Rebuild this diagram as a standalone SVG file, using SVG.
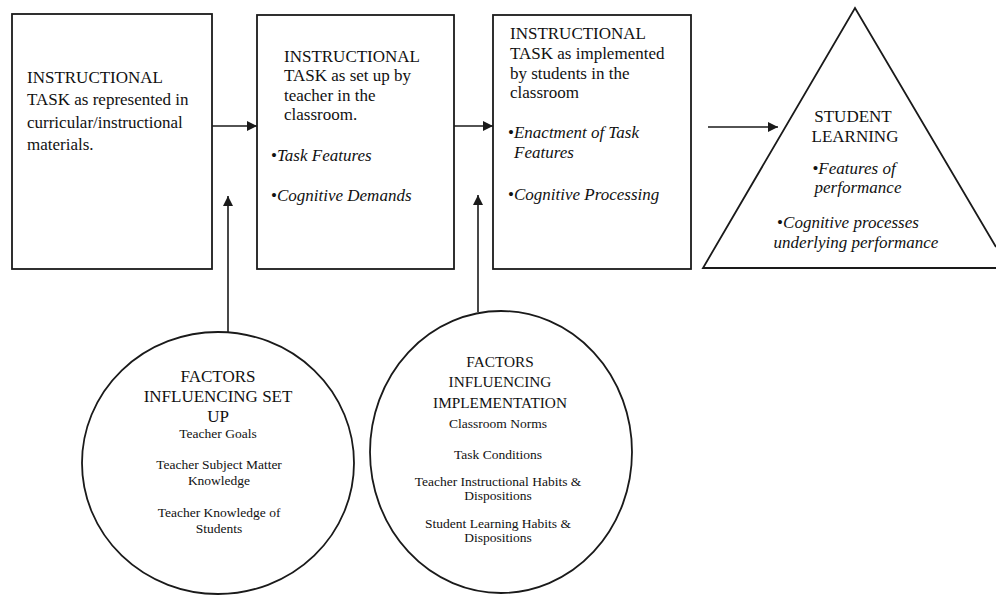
<svg xmlns="http://www.w3.org/2000/svg" width="996" height="595" viewBox="0 0 996 595">
<defs>
<marker id="ah" viewBox="0 0 10 10" refX="10" refY="5" markerWidth="10" markerHeight="10" markerUnits="userSpaceOnUse" orient="auto">
<path d="M0,0 L10,5 L0,10 z" fill="#1a1a1a"/>
</marker>
<style>
.shape{fill:#fff;stroke:#1a1a1a;stroke-width:1.8}
.t{font-family:"Liberation Serif","Times New Roman",serif;font-size:17px;fill:#111}
.i{font-style:italic}
.c{text-anchor:middle}
.h2{font-size:15.3px}
.s{font-size:13.5px}
.conn{stroke:#1a1a1a;stroke-width:1.6;fill:none;marker-end:url(#ah)}
</style>
</defs>
<rect width="996" height="595" fill="#fff"/>
<g id="connectors">
<line class="conn" x1="212" y1="126" x2="257" y2="126"/>
<line class="conn" x1="454" y1="126" x2="493" y2="126"/>
<line class="conn" x1="708" y1="127" x2="778" y2="127"/>
<line class="conn" x1="228" y1="332" x2="228" y2="196"/>
<line class="conn" x1="478" y1="312" x2="478" y2="195"/>
</g>
<g id="box1">
<rect class="shape" x="12" y="14" width="200" height="255"/>
<text class="t" x="27" y="83">INSTRUCTIONAL</text>
<text class="t" x="27" y="105">TASK as represented in</text>
<text class="t" x="27" y="128">curricular/instructional</text>
<text class="t" x="27" y="150">materials.</text>
</g>
<g id="box2">
<rect class="shape" x="257" y="15" width="197" height="254"/>
<text class="t" x="284" y="62">INSTRUCTIONAL</text>
<text class="t" x="284" y="81">TASK as set up by</text>
<text class="t" x="284" y="101">teacher in the</text>
<text class="t" x="284" y="120">classroom.</text>
<text class="t i" x="271" y="161"><tspan font-style="normal">•</tspan>Task Features</text>
<text class="t i" x="271" y="201"><tspan font-style="normal">•</tspan>Cognitive Demands</text>
</g>
<g id="box3">
<rect class="shape" x="493" y="15" width="198" height="254"/>
<text class="t" x="510" y="39">INSTRUCTIONAL</text>
<text class="t" x="510" y="59">TASK as implemented</text>
<text class="t" x="510" y="79">by students in the</text>
<text class="t" x="510" y="98">classroom</text>
<text class="t i" x="508" y="138"><tspan font-style="normal">•</tspan>Enactment of Task</text>
<text class="t i" x="514" y="158">Features</text>
<text class="t i" x="508" y="200"><tspan font-style="normal">•</tspan>Cognitive Processing</text>
</g>
<g id="student-learning">
<path class="shape" d="M996,247 L855,8 L703,268 L996,268"/>
<text class="t c" x="853" y="122">STUDENT</text>
<text class="t c" x="855" y="142">LEARNING</text>
<text class="t c i" x="854" y="174"><tspan font-style="normal">•</tspan>Features of</text>
<text class="t c i" x="858" y="193">performance</text>
<text class="t c i" x="848" y="228"><tspan font-style="normal">•</tspan>Cognitive processes</text>
<text class="t c i" x="856" y="248">underlying performance</text>
</g>
<g id="factors-setup">
<ellipse class="shape" cx="218" cy="463" rx="136" ry="131"/>
<text class="t c" x="218" y="382">FACTORS</text>
<text class="t c" x="218" y="402">INFLUENCING SET</text>
<text class="t c" x="218" y="422">UP</text>
<text class="t c s" x="218" y="438">Teacher Goals</text>
<text class="t c s" x="219" y="469">Teacher Subject Matter</text>
<text class="t c s" x="219" y="485">Knowledge</text>
<text class="t c s" x="219" y="517">Teacher Knowledge of</text>
<text class="t c s" x="219" y="533">Students</text>
</g>
<g id="factors-implementation">
<ellipse class="shape" cx="501" cy="452" rx="131" ry="141"/>
<text class="t c h2" x="500" y="367">FACTORS</text>
<text class="t c h2" x="500" y="387">INFLUENCING</text>
<text class="t c h2" x="500" y="408">IMPLEMENTATION</text>
<text class="t c s" x="498" y="428">Classroom Norms</text>
<text class="t c s" x="498" y="459">Task Conditions</text>
<text class="t c s" x="498" y="486">Teacher Instructional Habits &amp;</text>
<text class="t c s" x="498" y="500">Dispositions</text>
<text class="t c s" x="498" y="528">Student Learning Habits &amp;</text>
<text class="t c s" x="498" y="542">Dispositions</text>
</g>
</svg>
